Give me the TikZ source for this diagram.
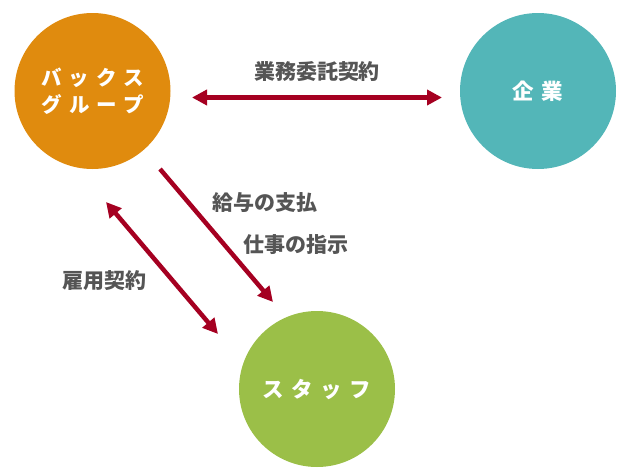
\documentclass[tikz,border=0pt]{standalone}
\usepackage{fontspec}
\usetikzlibrary{arrows.meta}
\newfontfamily\jp{Noto Sans CJK JP}
\newfontfamily\jpsp{Noto Sans CJK JP}[LetterSpace=35]
\definecolor{corange}{HTML}{E08B0E}
\definecolor{cteal}{HTML}{53B6B8}
\definecolor{cgreen}{HTML}{9BBF48}
\definecolor{carrow}{HTML}{A50021}
\definecolor{ctext}{HTML}{555555}
\tikzset{
  bubble/.style={circle, minimum size=156pt, inner sep=0pt, text=white, align=center,
    font=\jpsp\bfseries\fontsize{20.5}{27}\selectfont},
  conn/.style={line width=4.5pt, draw=carrow, -{Triangle[length=15pt,width=15pt]}},
  biconn/.style={line width=4.5pt, draw=carrow, {Triangle[length=15pt,width=15pt]}-{Triangle[length=15pt,width=15pt]}},
  lbl/.style={text=ctext, inner sep=0pt, font=\jp\bfseries\fontsize{21}{24}\selectfont}
}
\begin{document}
\begin{tikzpicture}[x=1pt,y=-1pt]
\useasboundingbox (0,0) rectangle (633,474);
\node[bubble, fill=corange] (bax) at (92.5,91) {バックス\\グループ};
\node[bubble, fill=cteal] (kig) at (538,91) {\fontsize{21.5}{27}\selectfont 企業};
\node[bubble, fill=cgreen] (sta) at (317,389) {\fontsize{21.5}{27}\selectfont スタッフ};
\coordinate (h1) at (192,97.5);
\coordinate (h2) at (442,97.5);
\coordinate (d1a) at (160,169);
\coordinate (d1b) at (273,302);
\coordinate (d2a) at (106,202);
\coordinate (d2b) at (218,334);
\draw[biconn] (h1) -- (h2);
\draw[conn] (d1a) -- (d1b);
\draw[biconn] (d2a) -- (d2b);
\node[lbl] (l1) at (317,72) {業務委託契約};
\node[lbl] (l2) at (265,203) {給与の支払};
\node[lbl] (l3) at (296,245) {仕事の指示};
\node[lbl] (l4) at (105,281) {雇用契約};
\end{tikzpicture}
\end{document}
